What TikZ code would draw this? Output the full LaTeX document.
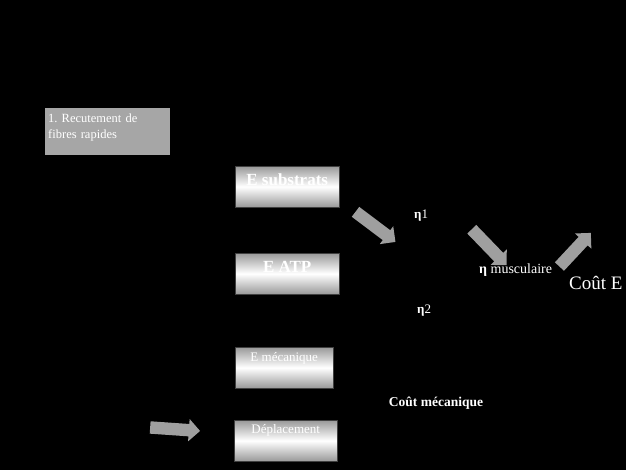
\documentclass[tikz,border=0pt]{standalone}
\usepackage{fontspec}
\setmainfont{Liberation Serif}
\usetikzlibrary{shapes.arrows}

\tikzset{
  energybox/.style={draw=gray!50!black, top color=gray!80, bottom color=gray!80, middle color=white,
    minimum width=104pt, minimum height=41pt, inner sep=0pt, anchor=north west, text=white},
  bigarrow/.style={single arrow, fill=gray!75, draw=none, minimum height=50pt,
    single arrow head extend=5pt, inner sep=6pt},
  eta/.style={text=white, font=\fontsize{13}{13}\selectfont}
}

\begin{document}
\begin{tikzpicture}[x=1pt,y=-1pt]
  % black slide
  \clip (0,0) rectangle (626,470);
  \fill[black] (0,0) rectangle (626,470);

  % first step
  \node[fill=gray!70, minimum width=125pt, minimum height=47pt, anchor=north west, inner sep=3pt,
        text width=119pt, align=left, text=white, font=\fontsize{12.5}{16}\selectfont,
        text height=9pt, text depth=27pt] (fibres) at (45,108)
        {\frenchspacing 1. Recutement de\\ fibres rapides};

  % energy chain
  \node[energybox, font=\bfseries\fontsize{17}{17}\selectfont, text height=12pt, text depth=15pt] (substrats) at (235,166) {E substrats};
  \node[energybox, font=\bfseries\fontsize{17}{17}\selectfont, text height=12pt, text depth=15pt] (atp) at (235,253) {E ATP};
  \node[energybox, minimum width=98pt, font=\fontsize{13}{13}\selectfont, text height=9pt, text depth=22pt] (meca) at (235,347) {E mécanique};
  \node[energybox, minimum width=103pt, font=\fontsize{13}{13}\selectfont, text height=9pt, text depth=24pt] (depl) at (234,420) {Déplacement};

  % block arrows
  \node[bigarrow, rotate=-4] (a1) at (172,429) {};
  \node[bigarrow, rotate=-37] (a2) at (373,225) {};
  \node[bigarrow, rotate=-46] (a3) at (487,245) {};
  \node[bigarrow, rotate=47, minimum height=46pt] (a4) at (573,252) {};

  % efficiencies
  \node[eta, anchor=base west, inner sep=0pt] (eta1) at (414,219) {\textbf{η}1};
  \node[eta, anchor=base west, inner sep=0pt] (eta2) at (417,313) {\textbf{η}2};
  \node[eta, anchor=base west, inner sep=0pt, font=\fontsize{14}{14}\selectfont] (etamus) at (479,273) {\textbf{η} musculaire};

  % costs
  \node[text=white, anchor=base west, inner sep=0pt, font=\fontsize{19}{19}\selectfont] (cout) at (569,289) {Coût E};
  \node[text=white, font=\bfseries\fontsize{13.5}{13.5}\selectfont] (coutmeca) at (436,403) {Coût mécanique};
\end{tikzpicture}
\end{document}
